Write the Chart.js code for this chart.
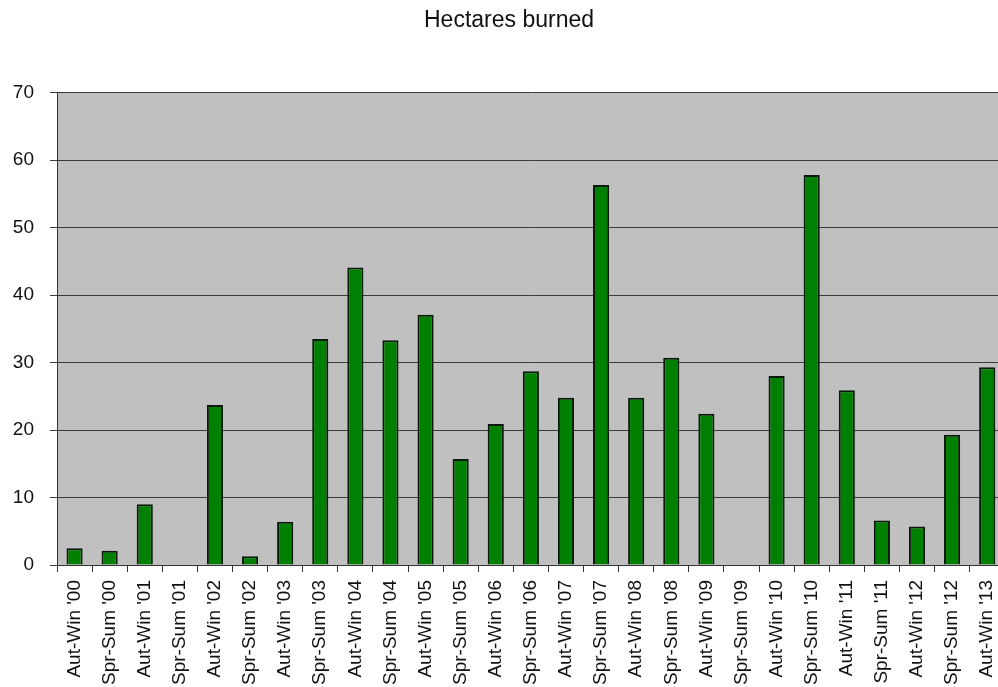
<!DOCTYPE html>
<html>
<head>
<meta charset="utf-8">
<title>Hectares burned</title>
<script src="https://cdn.jsdelivr.net/npm/chart.js@4/dist/chart.umd.min.js"></script>
<style>
  html, body { margin: 0; padding: 0; background: #fff; overflow: hidden; }
  #wrap { width: 998px; height: 687px; overflow: hidden; }
  #chart { display: block; }
</style>
</head>
<body>
<div id="wrap"><canvas id="chart" width="1018" height="687"></canvas></div>
<script>
const seasons = [
  "Aut-Win '00", "Spr-Sum '00", "Aut-Win '01", "Spr-Sum '01", "Aut-Win '02",
  "Spr-Sum '02", "Aut-Win '03", "Spr-Sum '03", "Aut-Win '04", "Spr-Sum '04",
  "Aut-Win '05", "Spr-Sum '05", "Aut-Win '06", "Spr-Sum '06", "Aut-Win '07",
  "Spr-Sum '07", "Aut-Win '08", "Spr-Sum '08", "Aut-Win '09", "Spr-Sum '09",
  "Aut-Win '10", "Spr-Sum '10", "Aut-Win '11", "Spr-Sum '11", "Aut-Win '12",
  "Spr-Sum '12", "Aut-Win '13"
];
const hectares = [
  2.5, 2.1, 9.0, 0, 23.7,
  1.3, 6.4, 33.5, 44.1, 33.3,
  37.1, 15.7, 20.9, 28.7, 24.8,
  56.3, 24.8, 30.7, 22.4, 0,
  28.0, 57.8, 25.9, 6.6, 5.7,
  19.3, 29.3
];
const yTicks = [0, 10, 20, 30, 40, 50, 60, 70];

const fontFamily = "'Liberation Sans', Arial, sans-serif";

// grey plot background like the old Excel chart
const plotBackground = {
  id: 'plotBackground',
  beforeDraw(chart) {
    const { ctx, chartArea } = chart;
    ctx.save();
    ctx.fillStyle = '#c0c0c0';
    ctx.fillRect(chartArea.left, chartArea.top, chartArea.right - chartArea.left, chartArea.bottom - chartArea.top);
    ctx.restore();
  }
};

new Chart(document.getElementById('chart'), {
  type: 'bar',
  data: {
    labels: seasons,
    datasets: [{
      label: 'Hectares burned',
      data: hectares,
      backgroundColor: '#008000',
      borderColor: '#0a1a0a',
      borderWidth: 2,
      categoryPercentage: 1,
      barPercentage: 0.46
    }]
  },
  options: {
    responsive: false,
    animation: false,
    layout: { padding: 0 },
    plugins: {
      legend: { display: false },
      tooltip: { enabled: false },
      title: {
        display: true,
        text: 'Hectares burned',
        color: '#111',
        font: { family: fontFamily, size: 23, weight: 'normal' },
        padding: { top: 7, bottom: 58 }
      }
    },
    scales: {
      x: {
        offset: true,
        grid: {
          display: true,
          offset: true,
          drawOnChartArea: false,
          drawTicks: true,
          tickLength: 7,
          color: '#333'
        },
        border: { display: true, color: '#333', width: 1 },
        ticks: {
          autoSkip: false,
          minRotation: 90,
          maxRotation: 90,
          padding: 8,
          color: '#111',
          font: { family: fontFamily, size: 19 }
        },
        afterFit(scale) { scale.height = 122; }
      },
      y: {
        min: 0,
        max: 70,
        afterBuildTicks(scale) { scale.ticks = yTicks.map(v => ({ value: v })); },
        grid: {
          color: '#3a3a3a',
          lineWidth: 1,
          drawTicks: true,
          tickLength: 7
        },
        border: { display: true, color: '#333', width: 1 },
        ticks: {
          padding: 16,
          color: '#111',
          font: { family: fontFamily, size: 19 }
        },
        afterFit(scale) { scale.width = 57; }
      }
    }
  },
  plugins: [plotBackground]
});
</script>
</body>
</html>
